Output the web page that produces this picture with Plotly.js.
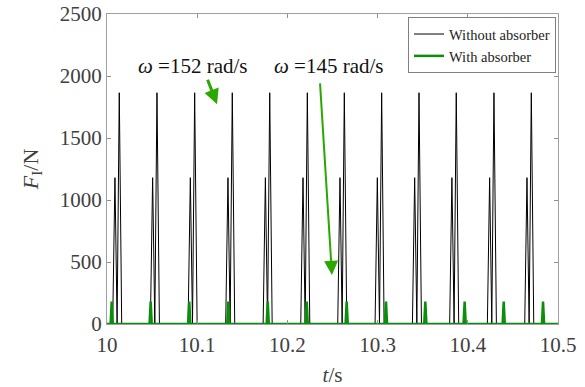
<!DOCTYPE html>
<html>
<head>
<meta charset="utf-8">
<script src="https://cdn.plot.ly/plotly-3.0.1.min.js"></script>
<style>html,body{margin:0;padding:0;background:#fff;}#chart{width:585px;height:387px;}</style>
</head>
<body>
<div id="chart"></div>
<script>
// Without absorber (black): time [s] and force [N]
var tWithout = [10.0000,
  10.0063, 10.0088, 10.0112, 10.0136, 10.0163,
  10.0481, 10.0506, 10.0530, 10.0554, 10.0581,
  10.0899, 10.0924, 10.0948, 10.0972, 10.0999,
  10.1316, 10.1341, 10.1365, 10.1389, 10.1416,
  10.1731, 10.1756, 10.1780, 10.1804, 10.1831,
  10.2148, 10.2173, 10.2197, 10.2221, 10.2248,
  10.2558, 10.2583, 10.2607, 10.2631, 10.2658,
  10.2972, 10.2997, 10.3021, 10.3045, 10.3072,
  10.3386, 10.3411, 10.3435, 10.3459, 10.3486,
  10.3799, 10.3824, 10.3848, 10.3872, 10.3899,
  10.4217, 10.4242, 10.4266, 10.4290, 10.4317,
  10.4631, 10.4656, 10.4680, 10.4704, 10.4731,
  10.5000];
var fWithout = [0,
  0, 1180, 0, 1865, 0,
  0, 1180, 0, 1865, 0,
  0, 1180, 0, 1865, 0,
  0, 1180, 0, 1865, 0,
  0, 1180, 0, 1865, 0,
  0, 1180, 0, 1865, 0,
  0, 1180, 0, 1865, 0,
  0, 1180, 0, 1865, 0,
  0, 1180, 0, 1865, 0,
  0, 1180, 0, 1865, 0,
  0, 1180, 0, 1865, 0,
  0, 1180, 0, 1865, 0,
  0];
// With absorber (green)
var tWith = [10.0000,
  10.0040, 10.0052, 10.0064,
  10.0472, 10.0484, 10.0496,
  10.0900, 10.0912, 10.0924,
  10.1333, 10.1345, 10.1357,
  10.1770, 10.1782, 10.1794,
  10.2202, 10.2214, 10.2226,
  10.2645, 10.2657, 10.2669,
  10.3081, 10.3093, 10.3105,
  10.3517, 10.3529, 10.3541,
  10.3953, 10.3965, 10.3977,
  10.4386, 10.4398, 10.4410,
  10.4822, 10.4834, 10.4846,
  10.5000];
var fWith = [0,
  0, 180, 0,
  0, 180, 0,
  0, 180, 0,
  0, 180, 0,
  0, 180, 0,
  0, 180, 0,
  0, 180, 0,
  0, 180, 0,
  0, 180, 0,
  0, 180, 0,
  0, 180, 0,
  0, 180, 0,
  0];
var seriesNames = ['Without absorber', 'With absorber'];
var xTicks = [10, 10.1, 10.2, 10.3, 10.4, 10.5];
var xTickText = ['10', '10.1', '10.2', '10.3', '10.4', '10.5'];
var yTicks = [0, 500, 1000, 1500, 2000, 2500];
var yTickText = ['0', '500', '1000', '1500', '2000', '2500'];

var serif = 'Liberation Serif, Times New Roman, serif';
var green = '#0a8f0a';
var arrowGreen = '#2aa800';

var traces = [
  {x: tWithout, y: fWithout, type: 'scatter', mode: 'lines', name: seriesNames[0],
   line: {color: '#000000', width: 1}},
  {x: tWith, y: fWith, type: 'scatter', mode: 'lines', name: seriesNames[1],
   line: {color: green, width: 2.5}}
];

var layout = {
  width: 585, height: 387,
  margin: {l: 107, r: 27, t: 14, b: 63},
  paper_bgcolor: '#ffffff', plot_bgcolor: '#ffffff',
  font: {family: serif, size: 21, color: '#404040'},
  showlegend: true,
  legend: {x: 0.9956, y: 0.99, xanchor: 'right', yanchor: 'top',
    bgcolor: '#ffffff', bordercolor: '#808080', borderwidth: 1,
    font: {family: serif, size: 14.5, color: '#222222'}, tracegroupgap: 0},
  xaxis: {range: [10, 10.5], tickvals: xTicks, ticktext: xTickText,
    ticks: 'inside', ticklen: 4, tickcolor: '#909090', showgrid: false, zeroline: false,
    showline: true, linecolor: '#a0a0a0', linewidth: 1, mirror: 'ticks',
    ticklabelstandoff: 2,
    tickfont: {family: serif, size: 21, color: '#404040'},
    title: {text: '<i>t</i>/s', font: {family: serif, size: 21, color: '#404040'}, standoff: 12}},
  yaxis: {range: [0, 2500], tickvals: yTicks, ticktext: yTickText,
    ticks: 'inside', ticklen: 4, tickcolor: '#909090', showgrid: false, zeroline: false,
    showline: true, linecolor: '#a0a0a0', linewidth: 1, mirror: 'ticks',
    tickfont: {family: serif, size: 21, color: '#404040'},
    title: {text: '<i>F</i><sub>I</sub>/N', font: {family: serif, size: 22, color: '#404040'}, standoff: 15}},
  annotations: [
    {x: 10.0953, y: 2080, xref: 'x', yref: 'y', text: '<i>ω</i> =152 rad/s', showarrow: false,
     font: {family: serif, size: 21, color: '#111111'}},
    {x: 10.2461, y: 2080, xref: 'x', yref: 'y', text: '<i>ω</i> =145 rad/s', showarrow: false,
     font: {family: serif, size: 21, color: '#111111'}},
    {x: 10.122, y: 1772, xref: 'x', yref: 'y', text: '', showarrow: true,
     ax: -10, ay: -26, arrowhead: 2, arrowsize: 1, arrowwidth: 3, arrowcolor: arrowGreen, standoff: 0},
    {x: 10.2494, y: 396, xref: 'x', yref: 'y', text: '', showarrow: true,
     ax: -12, ay: -193, arrowhead: 2, arrowsize: 1.4, arrowwidth: 2, arrowcolor: arrowGreen, standoff: 0}
  ]
};

Plotly.newPlot('chart', traces, layout, {displayModeBar: false, staticPlot: true});
</script>
</body>
</html>
